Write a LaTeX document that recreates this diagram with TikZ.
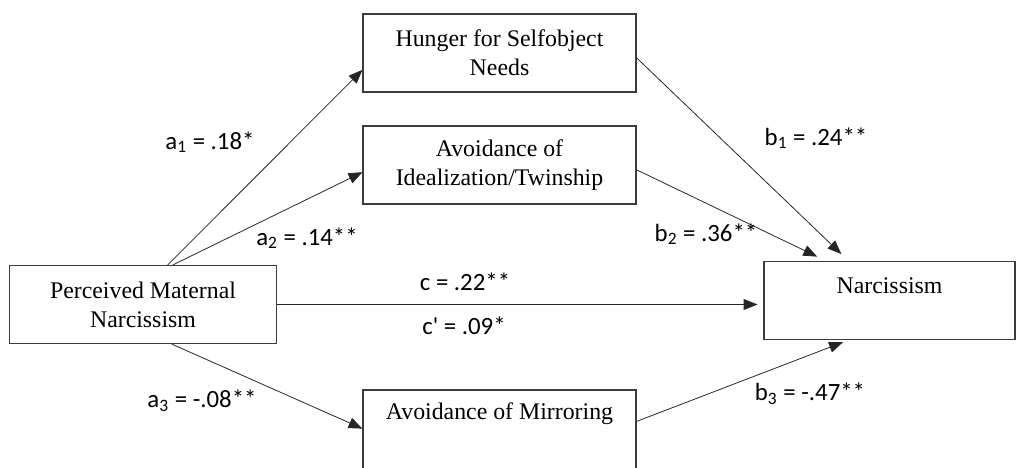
\documentclass[tikz,border=0pt]{standalone}
\usepackage{fontspec}
\setmainfont{Liberation Serif}
\newfontfamily\coeffont{Carlito}
\usetikzlibrary{arrows.meta,calc}
\definecolor{boxgray}{RGB}{60,60,60}
\tikzset{
    line/.style = {-{Triangle[length=7pt,width=5.5pt]}, thin, draw=black!85},
    box/.style  = {draw=boxgray, semithick, fill=white,
            minimum width=4.83cm, minimum height=1.38cm,
            align=center, font=\fontsize{12}{14.5}\selectfont},
    coef/.style = {font=\coeffont\fontsize{12.5}{14}\selectfont, inner sep=1pt},
}
\begin{document}
\begin{tikzpicture}[x=0.0177cm, y=-0.0177cm]
    \useasboundingbox (0,0) rectangle (1017,467);
    % Nodes
    \node[box] (hunger) at (499.5,53) {Hunger for Selfobject\\Needs};
    \node[box] (ideal) at (499.5,165) {Avoidance of\\Idealization/Twinship};
    \node[box, minimum width=4.74cm] (mat) at (143,304.5) {Perceived Maternal\\Narcissism};
    \node[box, minimum width=4.44cm] (narc) at (889.5,300.5) {Narcissism\\~};
    \node[box, minimum height=1.45cm] (mirror) at (499.5,431) {Avoidance of Mirroring\\[6pt]~};
    % Arrows
    \draw[line] (mat.58) -- (hunger.187);
    \draw[line] (mat.53) -- (ideal.183);
    \draw[line] (mat.-54) -- (mirror.179);
    \draw[line, shorten >=3pt] (mat.east) -- (mat.east -| narc.west);
    \draw[line, shorten >=5pt] (hunger.-2) -- (narc.136);
    \draw[line, shorten >=5pt] (ideal.-2) -- (narc.148);
    \draw[line, shorten >=3pt] (mirror.4) -- (narc.-136);
    % Coefficients
    \node[coef] (la1) at (210,142) {a\textsubscript{1} = .18*};
    \node[coef] (la2) at (307,238) {a\textsubscript{2} = .14**};
    \node[coef] (la3) at (202,401) {a\textsubscript{3} = -.08**};
    \node[coef] (lc) at (465,282) {c = .22**};
    \node[coef] (lcp) at (464,326) {c\textquotesingle{} = .09*};
    \node[coef] (lb1) at (816,138) {b\textsubscript{1} = .24**};
    \node[coef] (lb2) at (706,234) {b\textsubscript{2} = .36**};
    \node[coef] (lb3) at (810,394) {b\textsubscript{3} = -.47**};
\end{tikzpicture}
\end{document}
